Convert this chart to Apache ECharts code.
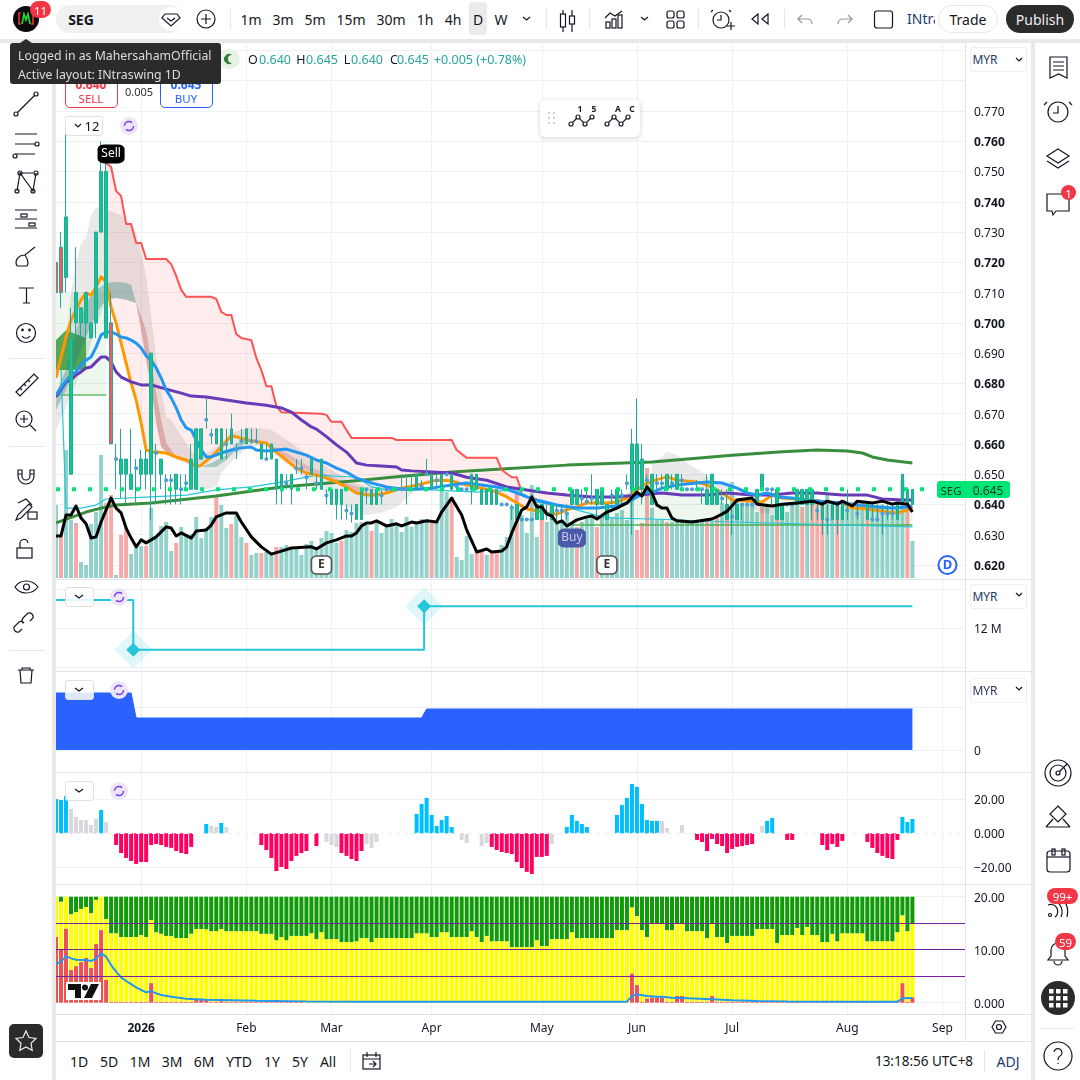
<!DOCTYPE html>
<html><head><meta charset="utf-8">
<script src="https://cdn.jsdelivr.net/npm/echarts@6/dist/echarts.min.js"></script>
<style>
html,body{margin:0;padding:0;background:#fff;width:1080px;height:1080px;overflow:hidden;font-family:"Noto Sans",sans-serif;color:#131722}
#chart{position:absolute;left:0;top:0;width:1080px;height:1080px}
.p{position:absolute}
.t{position:absolute;transform:translate(-50%,-50%);white-space:nowrap;font-size:13px}
svg{position:absolute;left:0;top:0}
</style></head><body>
<div id="chart"></div>
<div id="ui"></div>
<script>
const opens=[.72,.725,.715,.65,.71,.70,.70,.695,.70,.73,
.75,.70,.655,.655,.655,.645,.652,.65,.655,.65,
.657,.65,.648,.648,.65,.645,.647,.645,.645,.655,
.668,.663,.665,.655,.66,.665,.658,.661,.665,.661,
.661,.66,.655,.66,.655,.645,.647,.645,.652,.652,
.649,.65,.647,.645,.643,.64,.64,.645,.638,.637,
.635,.635,.645,.645,.645,.643,.645,.645,.645,.645,
.645,.645,.645,.646,.65,.65,.648,.645,.65,.65,
.646,.645,.645,.645,.65,.645,.64,.645,.645,.64,
.64,.639,.64,.635,.635,.635,.635,.64,.637,.635,
.638,.638,.637,.64,.645,.642,.641,.642,.645,.64,
.635,.643,.64,.643,.647,.645,.66,.655,.648,.64,
.647,.647,.65,.647,.645,.648,.645,.645,.645,.645,
.645,.64,.645,.642,.64,.636,.635,.64,.64,.64,
.64,.65,.645,.645,.645,.635,.64,.64,.64,.645,
.64,.645,.638,.64,.635,.635,.64,.635,.638,.64,
.637,.64,.64,.635,.635,.637,.637,.637,.635,.64,
.645,.64];
const closes=[.71,.71,.735,.695,.70,.705,.71,.70,.73,.75,
.695,.66,.655,.65,.65,.65,.652,.655,.65,.69,
.657,.655,.648,.648,.645,.645,.647,.655,.665,.665,
.668,.663,.66,.665,.66,.66,.658,.661,.66,.661,
.661,.655,.655,.655,.645,.65,.647,.65,.652,.652,
.649,.655,.647,.655,.643,.645,.645,.64,.638,.637,
.64,.645,.645,.64,.64,.643,.645,.645,.645,.645,
.645,.645,.65,.646,.65,.645,.648,.65,.65,.645,
.646,.645,.645,.65,.645,.64,.645,.64,.64,.64,
.64,.639,.635,.635,.635,.635,.64,.635,.637,.64,
.638,.638,.637,.645,.64,.642,.641,.642,.64,.645,
.64,.643,.645,.643,.647,.66,.645,.645,.648,.65,
.647,.647,.645,.647,.65,.648,.645,.645,.645,.645,
.64,.65,.64,.642,.635,.636,.64,.64,.64,.64,
.645,.645,.645,.645,.635,.64,.64,.64,.645,.64,
.645,.64,.638,.635,.635,.64,.635,.64,.638,.64,
.637,.64,.635,.635,.635,.637,.637,.637,.64,.65,
.64,.645];
const lows=[.705,.705,.71,.65,.695,.695,.695,.695,.695,.73,
.695,.66,.645,.642,.64,.645,.64,.645,.645,.635,
.64,.645,.64,.64,.64,.64,.645,.645,.645,.655,
.665,.66,.66,.655,.655,.66,.655,.66,.66,.66,
.66,.655,.655,.655,.64,.64,.645,.64,.65,.65,
.645,.65,.645,.645,.64,.64,.635,.635,.635,.634,
.635,.635,.64,.64,.64,.64,.645,.645,.645,.645,
.64,.645,.645,.645,.65,.645,.645,.645,.65,.645,
.645,.645,.645,.64,.645,.64,.64,.64,.64,.64,
.64,.635,.635,.635,.635,.635,.635,.635,.635,.635,
.635,.635,.635,.64,.64,.64,.64,.64,.635,.64,
.635,.64,.64,.64,.645,.63,.645,.64,.645,.64,
.645,.645,.645,.645,.645,.645,.645,.645,.645,.64,
.64,.64,.64,.64,.635,.63,.635,.635,.64,.64,
.64,.645,.645,.64,.635,.635,.64,.64,.64,.64,
.64,.635,.635,.63,.63,.635,.63,.635,.635,.64,
.635,.64,.635,.635,.635,.63,.635,.635,.635,.64,
.64,.64];
const highs=[.745,.73,.765,.705,.725,.705,.71,.70,.73,.76,
.755,.71,.66,.665,.655,.665,.655,.658,.658,.69,
.66,.655,.65,.65,.65,.65,.65,.66,.665,.665,
.675,.665,.665,.665,.665,.67,.66,.665,.665,.665,
.665,.66,.66,.66,.655,.65,.65,.65,.655,.655,
.65,.655,.65,.655,.645,.645,.645,.645,.64,.64,
.64,.645,.645,.645,.645,.645,.645,.645,.645,.65,
.65,.65,.65,.648,.655,.65,.65,.65,.65,.65,
.647,.645,.645,.65,.65,.645,.645,.645,.645,.64,
.64,.64,.64,.635,.635,.635,.64,.64,.64,.64,
.64,.64,.64,.645,.645,.645,.645,.65,.645,.645,
.64,.645,.645,.645,.65,.665,.675,.66,.65,.65,
.65,.65,.65,.65,.65,.65,.645,.645,.648,.645,
.65,.65,.645,.645,.645,.64,.64,.64,.64,.64,
.645,.65,.645,.645,.645,.64,.64,.64,.645,.645,
.645,.645,.64,.64,.64,.64,.64,.64,.645,.64,
.64,.64,.64,.64,.64,.64,.64,.64,.64,.65,
.645,.645];
const redFillBars=[0,1,11];
const volumes=[73,42,128,58,55,16,13,54,66,123,
75,83,3,43,51,24,31,32,32,70,
41,52,56,27,35,51,43,44,61,40,
50,61,83,73,50,54,63,41,35,23,
25,25,26,25,31,31,33,31,29,23,
34,37,30,40,47,45,35,37,48,46,
55,56,53,47,55,45,51,59,53,46,
61,51,55,59,57,55,56,88,86,81,
21,18,42,24,26,26,23,26,26,33,
41,71,86,63,45,93,41,73,56,73,
55,56,66,56,51,56,60,61,51,61,
68,60,65,68,58,105,48,55,110,70,
59,59,56,56,56,56,56,56,56,56,
60,56,60,75,61,96,76,73,73,73,
66,71,73,63,73,74,66,73,73,71,
73,80,79,73,83,73,73,71,73,73,
76,73,73,73,73,73,70,70,70,98,
71,37];
const volumeRedBars=[1,4,10,11,13,14,18,24,32,35,38,41,44,57,63,75,79,84,85,87,88,92,97,104,108,116,117,118,122,130,132,134,141,144,149,151,152,153,156,162,170];
const oscillator=[20.2,19.6,22,14.3,9.6,7.8,7.8,4.9,8.4,13.7,
6.7,0,-6.9,-11.6,-14.5,-16.3,-18,-16.9,-16.9,-6.9,
-6.3,-6.9,-8,-8.6,-10.4,-11.6,-12.2,-8,0,0,
5.5,4.3,3.7,6.1,3.7,0,0,0,0,0,
0,-6.9,-9.8,-14.5,-22.2,-19.8,-21,-16.3,-13.3,-11.6,
-10.4,0,-7.5,0,-5.1,-6.9,-8,-11.6,-13.3,-15.1,
-16.3,-10.4,-6.3,-8.6,-5.1,0,0,0,0,0,
0,0,11.4,17.3,20.8,10.8,4.3,7.8,10.2,3.7,
0,-3.9,-5.7,0,0,-7.5,-5.7,-8,-9.8,-11,
-11.6,-12.2,-16.9,-20.4,-22.7,-23.9,-13.9,-13.9,-13.3,-6.3,
0,0,3.7,10.8,7.3,5.5,3.7,0,0,0,
0,0,10.8,16.7,20.8,29,27.3,17.3,7.8,7.3,
7.3,7.3,3.1,0,0,4.9,0,0,-3.9,-5.1,
-10.4,-3.3,-6.3,-7.5,-11.6,-9.2,-8,-7.5,-6.9,-6.3,
0,4.3,7.3,9,0,0,-3.9,-3.9,0,0,
0,0,0,-6.9,-9.8,-6.3,-8,-4.5,0,0,
0,0,-5.1,-8.6,-11.6,-13.3,-14.5,-15.1,-3.9,9.6,
6.7,8.4];
const oscGrayBars=[3,4,5,6,7,8,10,31,32,34,54,55,56,62,63,64,81,82,85,86,99,121,122,125,141];
const yellowTop=[20,19.05,20,16.7,17.1,17.7,18.05,16.9,19.4,20,
15.8,13.1,13.1,12.4,12.4,12.4,12.4,12.77,12.4,15.6,
13.3,13,12.6,12.6,12.2,12.2,12.2,13,13.9,13.9,
13.85,13.5,13.5,13.9,13.5,13.5,13.5,13.5,13.5,13.5,
13.5,13,13,13,11.8,12.4,11.8,12.6,12.6,12.6,
12.6,13.1,12,13.3,12,12,12,11.45,11.45,11.45,
11.6,12.2,12.2,11.45,12.2,12.2,12.2,12.2,12.2,12.2,
12.2,12.2,13.1,13.1,13.1,12.4,12.4,13.3,13.3,12.4,
12.4,12.4,12.4,13.5,12.4,11.45,12.6,11.6,11.6,11.6,
11.6,10.5,10.5,10.5,10.5,10.5,11.8,10.7,10.7,12,
12,12,12,13.3,12.2,12.2,12.2,12.2,12.2,12.2,
12.2,12.2,13.7,13.7,13.7,18,16.35,13.7,12.4,15,
15,15,13.7,13.7,15,15,13.5,13.5,13.5,13.5,
12.2,15,12.4,12.4,11.26,12.6,12.6,12.6,12.6,12.6,
13.9,13.9,13.9,13.9,11.26,12.77,12.77,12.77,14.1,12.77,
14.3,12.77,12.77,11.45,11.45,13,11.6,13.1,13.1,13.1,
13.1,13.1,11.6,11.6,11.6,11.6,11.6,11.6,13.3,16.5,
13.5,15];
const redTop=[12.45,10.06,14,6.16,6.9,7.67,8.43,6.54,11.07,13.7,
4.28,.2,.2,.2,.2,.2,.2,.2,.2,3.7,
.2,.2,.2,.2,.2,.2,.2,.2,.5,.5,
.5,.2,.2,.3,.2,.2,.2,.2,.2,.2,
.2,.2,.2,.2,.2,.2,.2,.2,.2,.2,
0,0,0,0,0,0,0,0,0,0,
0,0,0,0,0,0,0,0,0,0,
0,0,0,0,0,0,0,0,0,0,
0,0,0,0,0,0,0,0,0,0,
0,0,0,0,0,0,0,0,0,0,
0,0,0,0,0,0,0,0,0,0,
0,0,0,0,0,5.53,3.33,.2,.8,1,
1,1,.2,.2,1.26,1.26,.2,.2,.2,.2,
.2,1.26,.2,.2,.2,.2,.2,.2,.2,.2,
.2,.2,.2,.2,.2,.2,.2,.2,.2,.2,
.2,.2,.2,.2,.2,.2,.2,.2,.2,.2,
.2,.2,.2,.2,.2,.2,.2,.2,.2,3.7,
.2,1];
const pane5Top=20;
const pane5Blue=[[0,7.3],[1,7.74],[2,8.8],[3,8.36],[4,8.1],[5,8.05],[6,8.05],[7,7.86],[8,8.36],[9,9.3],[10,8.68],[11,7.1],[12,5.85],[13,4.78],[14,4.1],[15,3.5],[16,2.9],[17,2.4],[18,1.95],[19,2.2],[20,1.76],[21,1.45],[23,1.13],[26,.75],[30,.57],[40,.38],[50,.25],[60,.19],[114,.19],[115,1.26],[116,1.57],[118,1.26],[120,1.13],[121,1.13],[123,.94],[126,.82],[131,.63],[135,.44],[140,.31],[146,.25],[168,.19],[169,.82],[171,.88]];
const redLine=[[10,.7528],[11,.7515],[12,.7436],[13,.7419],[14,.7327],[15,.7327],[16,.7264],[17,.7264],[18,.7211],[22,.7211],[23,.7194],[24,.7155],[25,.7109],[26,.7086],[31,.7086],[32,.7079],[33,.7036],[34,.7026],[35,.7026],[36,.6963],[37,.695],[39,.6943],[40,.6884],[41,.6844],[42,.6791],[43,.6791],[44,.6725],[45,.6705],[53,.67],[54,.6696],[55,.6673],[57,.6673],[58,.6646],[59,.662],[67,.662],[68,.6613],[79,.6613],[80,.658],[82,.6554],[88,.6554],[89,.6514],[91,.649],[92,.649],[93,.644]];
const redFillTail=[[102,.643],[112,.6405]];
const orangeLine=[[0,.6818],[1,.6887],[2,.6953],[3,.7009],[4,.7043],[5,.7076],[6,.7099],[7,.7092],[8,.7118],[9,.7152],[10,.7135],[11,.7052],[12,.6999],[13,.6933],[14,.6867],[15,.6801],[16,.6745],[17,.6669],[18,.658],[19,.6573],[20,.6573],[22,.657],[24,.6557],[26,.6547],[27,.6537],[28,.6524],[29,.653],[31,.6557],[33,.659],[35,.6627],[36,.6624],[38,.6613],[40,.6607],[42,.6603],[44,.6573],[46,.6547],[48,.652],[50,.6504],[52,.6497],[54,.6487],[56,.6474],[58,.6458],[60,.6438],[62,.6431],[64,.6431],[66,.6438],[69,.6454],[72,.6464],[76,.648],[79,.6478],[82,.6464],[85,.6454],[88,.6441],[90,.6425],[92,.6405],[94,.6385],[96,.6379],[98,.6372],[100,.6368],[102,.6382],[104,.6392],[106,.6405],[110,.6405],[112,.6408],[114,.6421],[116,.6448],[118,.6471],[121,.6487],[122,.6491],[124,.648],[128,.6474],[130,.6464],[133,.6438],[135,.6415],[141,.6408],[143,.6431],[145,.6421],[150,.6415],[154,.6408],[157,.6405],[159,.6388],[162,.6385],[166,.6375],[168,.6372],[170,.6382],[171,.6392]];
const blueLine=[[0,.6762],[1,.6785],[2,.6808],[3,.6828],[4,.6838],[5,.6861],[6,.6877],[7,.6887],[8,.692],[9,.696],[10,.697],[11,.697],[12,.6963],[13,.6953],[14,.695],[15,.6943],[16,.6933],[17,.6917],[18,.6891],[19,.6877],[20,.6851],[21,.6818],[22,.6778],[23,.6752],[24,.6719],[25,.6679],[26,.6653],[27,.6646],[29,.658],[30,.6557],[31,.6557],[33,.657],[35,.658],[37,.6587],[39,.659],[40,.658],[42,.6577],[44,.658],[46,.6583],[48,.6573],[50,.6563],[52,.6547],[54,.6537],[56,.652],[58,.6507],[60,.6487],[63,.6471],[66,.6458],[69,.6451],[72,.6451],[75,.6454],[79,.6464],[82,.6471],[85,.6464],[88,.6458],[90,.6451],[92,.6438],[94,.6425],[96,.6415],[100,.6398],[104,.6388],[108,.6388],[112,.6395],[114,.6405],[116,.6425],[118,.6441],[119,.6438],[121,.6454],[124,.6464],[128,.6471],[130,.6474],[133,.6471],[136,.6454],[138,.6438],[140,.6431],[142,.6438],[144,.6425],[147,.6421],[150,.6415],[154,.6408],[157,.6405],[160,.6398],[164,.6392],[167,.6388],[170,.6392],[171,.6395]];
const purpleLine=[[0,.6755],[2,.6805],[3,.6811],[4,.6828],[5,.6838],[6,.6851],[7,.6854],[8,.6871],[9,.6887],[10,.6887],[11,.6871],[12,.6838],[13,.6821],[15,.6805],[17,.6795],[19,.6795],[22,.6781],[25,.6768],[27,.6758],[30,.6755],[34,.6745],[38,.6735],[42,.6728],[45,.6719],[47,.6705],[49,.6679],[51,.6656],[52,.6649],[54,.6624],[56,.6597],[58,.6573],[60,.6537],[62,.653],[65,.6527],[68,.6524],[69,.6514],[71,.6511],[75,.6507],[79,.6504],[82,.649],[86,.648],[90,.6458],[94,.6448],[98,.6438],[102,.6431],[107,.6425],[112,.6425],[116,.6431],[121,.6438],[125,.6431],[130,.6431],[134,.6438],[139,.6431],[143,.6431],[147,.6438],[152,.6438],[157,.6431],[162,.6431],[165,.6418],[169,.6415],[171,.6415]];
const greenLine=[[0,.6339],[6,.6375],[9,.6388],[12,.6398],[19,.6405],[32,.6428],[45,.6458],[61,.648],[67,.649],[79,.6507],[89,.6517],[102,.653],[119,.654],[135,.6563],[145,.6574],[152,.658],[158,.6577],[161,.657],[163,.6557],[166,.6547],[171,.6537]];
const cyanLine=[[1,.6845],[2,.6388],[5,.6388],[8,.6398],[9,.6408],[10,.6418],[19,.6425],[26,.6431],[32,.6448],[39,.6458],[45,.6474],[52,.6497],[60,.649],[63,.6458],[66,.6448],[75,.6448],[84,.6441],[92,.6448],[96,.6408],[104,.6382],[109,.6359],[112,.6355],[119,.6352],[135,.6342],[171,.6326]];
const blackLine=[[0,.6296],[1,.6296],[2,.6365],[3,.6365],[4,.6395],[5,.6355],[6,.6336],[7,.6289],[8,.6293],[9,.6342],[11,.6421],[12,.6388],[13,.6372],[14,.6322],[15,.6289],[16,.626],[17,.6283],[18,.6273],[20,.6293],[22,.6326],[23,.6322],[24,.6296],[25,.6306],[27,.6289],[28,.6312],[30,.6316],[31,.6332],[32,.6359],[34,.6372],[36,.6372],[37,.6342],[39,.6293],[41,.626],[43,.6236],[45,.6246],[47,.6256],[51,.626],[52,.6253],[54,.6273],[56,.6283],[58,.6296],[59,.6296],[60,.6306],[61,.6329],[62,.6339],[63,.6339],[64,.6346],[66,.6329],[68,.6336],[69,.6329],[71,.6342],[72,.6339],[74,.6346],[76,.6342],[77,.6375],[79,.6421],[81,.6365],[82,.6316],[84,.6243],[86,.6253],[87,.6243],[89,.6246],[90,.626],[91,.6306],[93,.6382],[94,.6392],[95,.6425],[96,.6392],[97,.6392],[98,.6368],[99,.6362],[100,.6339],[101,.6346],[102,.6329],[104,.6349],[106,.6359],[107,.6362],[108,.6352],[110,.6375],[112,.6388],[114,.6405],[116,.6441],[117,.6428],[118,.6458],[119,.6438],[120,.6398],[121,.6388],[122,.6388],[123,.6355],[124,.6346],[127,.6342],[131,.6352],[133,.6368],[134,.6378],[136,.6415],[139,.6421],[140,.6401],[143,.6395],[145,.6401],[148,.6405],[151,.6411],[153,.6401],[154,.6411],[156,.6401],[157,.6411],[159,.6395],[160,.6411],[163,.6405],[165,.6411],[167,.6401],[168,.6405],[170,.6401],[171,.6375]];
const grayCloudA=[[[0,.6735],[1,.6821],[2,.6933],[3,.7099],[4,.7198],[5,.7264],[6,.7281],[7,.7356],[8,.7383],[9,.7376],[10,.7373],[12,.7363],[14,.7346],[16,.7297],[17,.7231],[18,.7152],[19,.702],[20,.6887],[21,.6778],[22,.6689],[23,.6679],[24,.6653],[26,.6603],[28,.6554]],
[[0,.6646],[2,.6722],[4,.6801],[6,.6877],[8,.6988],[10,.7076],[12,.7082],[14,.7076],[16,.7066],[17,.6976],[18,.6877],[19,.6788],[20,.6669],[21,.659],[23,.6557],[25,.6547],[28,.6554]]];
const grayCloudB=[[[27,.6547],[29,.6557],[32,.659],[35,.6636],[39,.6656],[43,.6646],[47,.6603],[51,.6554],[55,.6514],[59,.6474],[62,.6458],[66,.6458],[72,.6448]],
[[27,.6471],[29,.6448],[32,.6458],[33,.6504],[36,.6557],[39,.6597],[42,.6587],[45,.6547],[48,.6507],[51,.6471],[55,.6425],[59,.6382],[62,.6365],[65,.6372],[68,.6392],[72,.6448]]];
const grayCloudC=[[[119,.654],[121,.6557],[122,.6574],[124,.6563],[126,.6537],[129,.6507],[131,.648],[134,.6464],[136,.642]],
[[119,.648],[121,.6497],[125,.6474],[128,.6458],[131,.6448],[134,.6425],[136,.642]]];
const grayCloudD=[[[138,.6398],[141,.6408],[144,.6388]],[[138,.6398],[141,.6372],[144,.6365]]];
const tealRibbonA=[[[0,.6768],[2,.6844],[4,.6976],[6,.7066],[8,.7109],[10,.7132],[12,.7135],[14,.7132],[15,.7125],[16,.7066]],
[[0,.6712],[2,.6778],[4,.6867],[6,.6953],[8,.7033],[10,.7076],[12,.7082],[14,.7076],[16,.7066]]];
const pinkRibbonA=[[[16,.7066],[18,.6976],[19,.6867],[20,.6768],[21,.6679],[22,.6603],[24,.6557],[27,.6537]],
[[16,.7066],[17,.6976],[18,.6877],[19,.6788],[20,.6669],[21,.659],[23,.6557],[27,.653]]];
const tealRibbonB=[[[29,.6524],[31,.6537],[34,.6563],[36,.6603],[39,.6618]],
[[29,.6524],[32,.6524],[34,.6547],[36,.658],[39,.6618]]];
const pinkRibbonB=[[[42,.6603],[46,.657],[50,.653],[54,.65],[58,.647],[62,.645]],
[[42,.6603],[46,.6554],[50,.6514],[54,.6484],[58,.6454],[62,.6431]]];
const paleGreenA=[[[0,.7099],[10,.7099]],[[0,.6762],[10,.6762]]];
const buyBoxA=[[[0,.6943],[2,.6976],[6,.695]],[[0,.6844],[6,.6844]]];
const paleGreenB=[[[103,.6375],[115,.6445],[119,.648],[135,.642],[171,.641]],[[103,.6332],[171,.6332]]];
const buyLevelA=[[0,.6762],[10,.6762]];
const buyLevelB=[[103,.6332],[171,.6332]];
const lastPrice=0.645;
const lastPriceSpan=[0,174];
const pane2Step=[[0,12.72],[15.43,12.72],[15.43,11.44],[73.5,11.44],[73.5,12.56],[171,12.56]];
const pane2Events=[[15.43,11.44],[73.5,12.56]];
const pane3Area=[[0,1.3256],[15,1.3256],[16,.744],[73,.744],[74,.953],[171,.953]];
const pane5Levels=[15,10,5];
const monthBars=[17,38,55,75,97,116,135,158,177];
const monthNames=['2026','Feb','Mar','Apr','May','Jun','Jul','Aug','Sep'];
const categories=Array.from({length:182},(_,i)=>String(i));
const dataBars=opens.map((_,i)=>i);

const FONT='"Noto Sans",sans-serif', GRID='#eff0f4', TXT='#131722';
const L=53.5,W=911.5;
function plainX(gridIndex,extra){return Object.assign({type:'category',gridIndex,data:categories,boundaryGap:true,axisLine:{show:false},axisTick:{show:false},axisLabel:{show:false},splitLine:{show:false},axisPointer:{show:false}},extra||{})}
function valY(gridIndex,min,max,interval,fmt,split){return {type:'value',gridIndex,position:'right',min,max,interval,scale:false,axisLine:{show:false},axisTick:{show:false},
 axisLabel:{show:!!fmt,formatter:fmt,color:TXT,fontSize:12,fontFamily:FONT,margin:9,padding:[3,0,0,0],showMinLabel:true,showMaxLabel:true,rich:{b:{fontWeight:'bold',fontSize:12,fontFamily:FONT,color:TXT}}},
 splitLine:Object.assign({show:split!==false,lineStyle:{color:GRID,width:1}},split||{})}}
const grids=[
 {left:L,width:W,top:44,height:970},
 {left:L,width:W,top:44,height:534},
 {left:L,width:W,top:20.2,height:575.07},
 {left:L,width:W,top:589,height:78},
 {left:L,width:W,top:664,height:86},
 {left:L,width:W,top:765.3,height:136},
 {left:L,width:W,top:896.7,height:106}
];
const xAxes=[
 plainX(0,{axisLabel:{show:true,interval:(i)=>monthBars.includes(i),formatter:(v,i)=>{const k=monthBars.indexOf(+v);return k<0?'':(k===0?'{b|'+monthNames[k]+'}':monthNames[k])},color:TXT,fontSize:12,fontFamily:FONT,margin:9,hideOverlap:false,rich:{b:{fontWeight:'bold',fontSize:12,fontFamily:FONT,color:TXT}}},
  splitLine:{show:true,alignWithLabel:true,interval:(i)=>monthBars.includes(i),lineStyle:{color:GRID,width:1}}}),
 plainX(1),plainX(2),
 {type:'value',gridIndex:3,min:-0.5,max:181.5,axisLine:{show:false},axisTick:{show:false},axisLabel:{show:false},splitLine:{show:false}},
 plainX(4),plainX(5),plainX(6)
];
const yAxes=[
 valY(0,0,1,1,null,false),
 valY(1,0,534,534,null,false),
 (()=>{const a=valY(2,0.61,0.80,0.01,(v)=>{const m=Math.round(v*1000);if(m>770||m<620)return '';const s=(m/1000).toFixed(3);return (m/10)%2===0?'{b|'+s+'}':s;});a.splitLine.showMinLine=false;a.splitLine.showMaxLine=false;return a})(),
 valY(3,11,13,1,(v)=>v===12?'12 M':''),
 (()=>{const a=valY(4,0,2,1,(v)=>v===0?'0':'');a.splitLine.showMaxLine=false;return a})(),
 (()=>{const a=valY(5,-40,40,20,(v)=>Math.abs(v)===40?'':(v===0?'0.000':(v<0?'\u2212':'')+Math.abs(v).toFixed(2)));a.splitLine.showMinLine=false;a.splitLine.showMaxLine=false;return a})(),
 valY(6,0,20,10,(v)=>v===0?'0.000':v.toFixed(2))
];
function band(pair,color,z){return {type:'custom',xAxisIndex:2,yAxisIndex:2,z,silent:true,clip:true,data:[[pair[0][0][0],pair[0][0][1]]],
 renderItem:(p,api)=>({type:'polygon',shape:{points:pair[0].concat(pair[1].slice().reverse()).map(d=>api.coord(d))},style:{fill:color}})}}
function pline(data,color,width,z){return {type:'line',xAxisIndex:2,yAxisIndex:2,data,z,symbol:'none',silent:true,lineStyle:{color,width,join:'round'}}}
const pinkUpper=redLine.concat(redFillTail);
const pinkLower=orangeLine.filter(d=>d[0]>=10&&d[0]<=112);
const series=[
 {type:'bar',xAxisIndex:1,yAxisIndex:1,z:1,silent:true,barWidth:4,data:volumes.map((v,i)=>({value:v,itemStyle:{color:volumeRedBars.includes(i)?'#f7a9a8':'#92d2cb'}}))},
 band(paleGreenA,'rgba(76,175,80,0.10)',2),
 band(paleGreenB,'rgba(76,175,80,0.10)',2),
 band([pinkUpper,pinkLower],'rgba(255,82,82,0.11)',2),
 band(grayCloudA,'rgba(110,110,110,0.15)',2),
 band(grayCloudB,'rgba(110,110,110,0.15)',2),
 band(grayCloudC,'rgba(110,110,110,0.15)',2),
 band(grayCloudD,'rgba(110,110,110,0.15)',2),
 band(buyBoxA,'rgba(56,155,60,0.85)',2),
 band(tealRibbonA,'rgba(30,125,115,0.32)',3),
 band(pinkRibbonA,'rgba(190,50,50,0.28)',3),
 band(tealRibbonB,'rgba(30,125,115,0.3)',3),
 band(pinkRibbonB,'rgba(190,50,50,0.2)',3),
 pline(buyLevelA,'#66bb6a',1.5,4),
 pline(buyLevelB,'#4caf50',1.5,4),
 pline(cyanLine,'#26c6da',1.2,4),
 pline(greenLine,'#388e3c',3,4),
 pline(redLine,'#ff5252',2,4),
 pline(orangeLine,'#ff9800',3,4),
 pline(purpleLine,'#673ab7',3,4),
 pline(blueLine,'#2196f3',3,4),
 {type:'candlestick',xAxisIndex:2,yAxisIndex:2,z:5,silent:true,barWidth:3,
  data:opens.map((o,i)=>{const doji=o===closes[i];const st={color:'#0dc98c',color0:'#0dc98c',borderColor:'#26a69a',borderColor0:'#ef5350',borderWidth:1};
   if(redFillBars.includes(i)){st.color=st.color0='#f25c5a';}
   if(doji){st.borderColor=st.borderColor0='#26a69a';}
   return {value:[o,closes[i],lows[i],highs[i]],itemStyle:st}})},
 {type:'scatter',xAxisIndex:2,yAxisIndex:2,z:5,silent:true,symbolSize:4,itemStyle:{color:'#4a9fd6',opacity:1},data:dataBars.filter(i=>opens[i]===closes[i]).map(i=>[i,opens[i]])},
 {type:'line',xAxisIndex:2,yAxisIndex:2,z:6,symbol:'none',silent:true,data:[[lastPriceSpan[0],lastPrice],[lastPriceSpan[1],lastPrice]],lineStyle:{color:'#00e676',width:4,type:[4,12]}},
 pline(blackLine,'#000',3,7),
 {type:'scatter',xAxisIndex:2,yAxisIndex:2,z:8,silent:true,symbol:'roundRect',symbolSize:[27,19],itemStyle:{color:'#000',opacity:1},data:[[11,.7558]],label:{show:true,position:'inside',formatter:'Sell',color:'#fff',fontSize:12,fontFamily:FONT}},
 {type:'scatter',xAxisIndex:2,yAxisIndex:2,z:8,silent:true,symbol:'roundRect',symbolSize:[28,19],itemStyle:{color:'#4a5aa8',opacity:1},data:[[103,.6289]],label:{show:true,position:'inside',formatter:'Buy',color:'#c5cae9',fontSize:12,fontFamily:FONT}},
 {type:'scatter',xAxisIndex:2,yAxisIndex:2,z:8,silent:true,symbol:'none',data:[[2,.6908]],label:{show:true,position:'inside',formatter:'Buy',color:'rgba(255,255,255,0.6)',fontSize:12,fontFamily:FONT}},
 {type:'scatter',xAxisIndex:2,yAxisIndex:2,z:8,silent:true,symbol:'roundRect',symbolSize:[20,18],itemStyle:{color:'#fff',borderColor:'#555',borderWidth:1.5,opacity:1},data:[[53,.62],[110,.62]],label:{show:true,position:'inside',formatter:'E',color:'#333',fontSize:12,fontWeight:'bold',fontFamily:FONT}},
 {type:'scatter',xAxisIndex:2,yAxisIndex:2,z:8,silent:true,symbol:'circle',symbolSize:18,itemStyle:{color:'#fff',borderColor:'#2962ff',borderWidth:2,opacity:1},data:[[178,.62]],label:{show:true,position:'inside',formatter:'D',color:'#2962ff',fontSize:13,fontWeight:'bold',fontFamily:FONT}},
 {type:'line',xAxisIndex:3,yAxisIndex:3,z:3,symbol:'none',silent:true,data:pane2Step,lineStyle:{color:'#26c6da',width:2}},
 {type:'scatter',xAxisIndex:3,yAxisIndex:3,z:2,silent:true,symbol:'diamond',symbolSize:38,itemStyle:{color:'rgba(38,198,218,0.15)',opacity:1},data:pane2Events},
 {type:'scatter',xAxisIndex:3,yAxisIndex:3,z:4,silent:true,symbol:'diamond',symbolSize:14,itemStyle:{color:'#26c6da',opacity:1},data:pane2Events},
 {type:'line',xAxisIndex:4,yAxisIndex:4,z:3,symbol:'none',silent:true,data:pane3Area,lineStyle:{color:'#2962ff',width:1},areaStyle:{color:'#2962ff',opacity:1}},
 {type:'bar',xAxisIndex:5,yAxisIndex:5,z:3,silent:true,barWidth:4,data:oscillator.map((v,i)=>({value:v,itemStyle:{color:oscGrayBars.includes(i)?'#d8d8dc':(v>0?'#00bfff':'#ff0061')}}))},
 {type:'line',xAxisIndex:5,yAxisIndex:5,z:4,symbol:'none',silent:true,data:[[0,0],[181,0]],lineStyle:{color:'#fff',width:1.2,type:[4,4]}},
 {type:'bar',xAxisIndex:6,yAxisIndex:6,z:3,silent:true,barWidth:4,stack:'pane5',data:redTop,itemStyle:{color:'#ef5350'}},
 {type:'bar',xAxisIndex:6,yAxisIndex:6,z:3,silent:true,barWidth:4,stack:'pane5',data:yellowTop.map((t,i)=>t-redTop[i]),itemStyle:{color:'#ffff00'}},
 {type:'bar',xAxisIndex:6,yAxisIndex:6,z:3,silent:true,barWidth:4,stack:'pane5',data:yellowTop.map(t=>pane5Top-t),itemStyle:{color:'#119b08'}},
 {type:'line',xAxisIndex:6,yAxisIndex:6,z:4,symbol:'none',silent:true,data:pane5Blue,lineStyle:{color:'#2196f3',width:2},
  markLine:{silent:true,symbol:'none',animation:false,label:{show:false},lineStyle:{color:'#7b1fa2',width:1.2,type:'solid'},data:pane5Levels.map(v=>({yAxis:v}))}}
];
const chart=echarts.init(document.getElementById('chart'),null,{renderer:'canvas',width:1080,height:1080});
chart.setOption({animation:false,backgroundColor:'#fff',textStyle:{fontFamily:FONT},grid:grids,xAxis:xAxes,yAxis:yAxes,series});

// ---- application chrome around the chart ----
const ui=document.getElementById('ui');
function box(x,y,w,h,css){const d=document.createElement('div');d.className='p';d.style.cssText=`left:${x}px;top:${y}px;width:${w}px;height:${h}px;`+(css||'');ui.appendChild(d);return d}
function txt(x,y,s,css){const d=document.createElement('div');d.className='t';d.style.cssText=`left:${x}px;top:${y}px;`+(css||'');d.textContent=s;ui.appendChild(d);return d}
function ltxt(x,y,s,css){const d=txt(x,y,s,css);d.style.transform='translate(0,-50%)';return d}
const BAND='#e9e9ea',SEP='#e0e3eb';
box(0,0,1080,39,'background:#fff');box(0,39,1080,4,`background:${BAND}`);
box(0,43,52,1037,'background:#fff');box(52,43,4,1037,`background:${BAND}`);
box(1035,43,45,1037,'background:#fff');box(1031,43,4,1037,`background:${BAND}`);
box(56,1042,975,38,'background:#fff');
box(965,43,1,999,`background:${SEP}`);
[579,671,772,884,1014,1041].forEach(y=>box(56,y,975,1,`background:${SEP}`));
// top bar
box(56,5,127,28,'background:#f0f0f0;border-radius:14px');
txt(81,19,'SEG','font-weight:700;font-size:14px');
box(159,7,24,24,'background:#fff;border-radius:12px');
[['1m',251],['3m',283],['5m',315],['15m',351],['30m',391],['1h',425],['4h',453],['W',501]].forEach(a=>txt(a[1],19,a[0],'font-size:14px'));
box(469,2,18,33,'background:#ebebeb;border-radius:4px');txt(478,19,'D','font-size:14px');
const clip=box(907,8,28,22,'overflow:hidden;color:#1e3a6d;font-size:14px;line-height:22px;white-space:nowrap');clip.textContent='INtraswing 1D';
box(938,5,60,28,'background:#fff;border:1px solid #e8e8ea;border-radius:15px;box-sizing:border-box');txt(968,19,'Trade','font-size:14px');
box(1006,5,68,28,'background:#2b2b2b;border-radius:14px');txt(1040,19,'Publish','font-size:14px;color:#eee');
// legend
box(218,49,22,20,'background:#e6f2e6;border-radius:10px');
const leg=[['O',253,TXT],['0.640',275,'#26a69a'],['H',301,TXT],['0.645',322,'#26a69a'],['L',347,TXT],['0.640',367,'#26a69a'],['C',394,TXT],['0.645',413,'#26a69a'],['+0.005 (+0.78%)',480,'#26a69a']];
leg.forEach(a=>txt(a[1],59,a[0],`font-size:12.5px;color:${a[2]}`));
// sell / buy boxes
box(65,72,53,36,'background:#fff;border:1px solid #f23645;border-radius:0 0 5px 5px;box-sizing:border-box');
txt(91,84,'0.640','font-size:12px;font-weight:700;color:#f23645');txt(91,98,'SELL','font-size:11.5px;color:#f23645');
txt(139,91,'0.005','font-size:11px;color:#333');
box(160,72,53,36,'background:#fff;border:1px solid #2962ff;border-radius:0 0 5px 5px;box-sizing:border-box');
txt(186,84,'0.645','font-size:12px;font-weight:700;color:#2962ff');txt(186,98,'BUY','font-size:11.5px;color:#2962ff');
// tooltip
box(10,43,211,41,'background:#2b2b2b;border-radius:3px');
ltxt(18,55,'Logged in as MahersahamOfficial','font-size:12.3px;color:#ddd');
ltxt(18,74,'Active layout: INtraswing 1D','font-size:12.3px;color:#ddd');
// pane buttons
function dd(x,y,w,label){box(x,y,w,20,'background:rgba(255,255,255,.85);border:1px solid #e0e0e0;border-radius:3px;box-sizing:border-box');if(label)txt(x+27,y+10,label,'font-size:13px')}
dd(65,116,38,'12');dd(65,587,29);dd(65,680,29);dd(65,781,29);
[[129,126],[119,597],[119,690],[119,791]].forEach(a=>box(a[0]-9,a[1]-9,18,18,'background:#ece6f8;border-radius:9px'));
// currency buttons
[[970,47],[970,584],[970,678]].forEach(a=>{box(a[0],a[1],57,25,'background:#fff;border:1px solid #eceef2;border-radius:3px;box-sizing:border-box');txt(a[0]+15,a[1]+12,'MYR','font-size:12px;color:#2a3a5a')});
// last price badge
box(937,481,28,17,'background:#00e676;border-radius:3px 0 0 3px');txt(951,489.5,'SEG','font-size:11.5px;color:#0b3d22');
box(965,481,45,17,'background:#00e676;border-radius:0 3px 3px 0');txt(988,489.5,'0.645','font-size:12px;color:#0b3d22');
// floating drawing bar
box(540,100,100,37,'background:#fff;border-radius:5px;box-shadow:0 1px 5px rgba(0,0,0,.18)');
[[580,'1'],[594,'5'],[618,'A'],[632,'C']].forEach(a=>txt(a[0],108,a[1],'font-size:8.5px;font-weight:700;color:#222'));
// bottom bar
[['1D',79],['5D',109],['1M',140],['3M',172],['6M',204],['YTD',239],['1Y',272],['5Y',300],['All',328]].forEach(a=>txt(a[1],1061,a[0],'font-size:14px'));
txt(924,1061,'13:18:56 UTC+8','font-size:13.5px');txt(1008,1061,'ADJ','font-size:14px;color:#1e3a6d');
// badges
function badge(x,y,w,h,s){box(x,y,w,h,`background:#f23645;border-radius:${h/2}px`);txt(x+w/2,y+h/2,s,'font-size:11.5px;color:#fff')}
const svgNS='http://www.w3.org/2000/svg';
const ic=`
<g fill="none" stroke="#131722" stroke-width="1.2">
<path d="M165 14h12l3 4-9 8-9-8z"/><path d="M167 18l4 3 4-3"/>
<circle cx="206" cy="19" r="9"/><path d="M206 14v10M201 19h10"/>
<path d="M230.500 9v20M546.500 9v20M589.500 9v20M698.500 9v20M784.500 9v20" stroke="#e6e6e8"/>
<path d="M523 17l3.500 3 3.500-3M641 17l3.500 3 3.500-3"/>
<path d="M563 10v22M572 10v22"/><rect x="560.500" y="14" width="5" height="13" fill="#fff"/><rect x="569.500" y="16" width="5" height="8" fill="#fff"/>
<path d="M605 18l5-5 5 3 7-5" /><rect x="606" y="22" width="4" height="6"/><rect x="612" y="19" width="4" height="9"/><rect x="618" y="15" width="4" height="13"/>
<rect x="667" y="11" width="7" height="7" rx="2"/><rect x="677" y="11" width="7" height="7" rx="2"/><rect x="667" y="21" width="7" height="7" rx="2"/><rect x="677" y="21" width="7" height="7" rx="2"/>
<circle cx="721" cy="20" r="8"/><path d="M721 15v5h-4M713 10l-2 2M729 10l2 2M727 26h8M731 22v8"/>
<path d="M758 14l-6 5 6 5zM768 14l-6 5 6 5z"/>
<path d="M802 15l-4 4 4 4M799 19h8c3 0 5 2 5 5" stroke="#999"/><path d="M848 15l4 4-4 4M851 19h-8c-3 0-5 2-5 5" stroke="#999"/>
<rect x="874.500" y="11" width="18" height="17" rx="2.500"/>
<path d="M232 55a5 5 0 1 0 0 8a4 4 0 0 1 0-8z" fill="#2e7d32" stroke="none"/>
<circle cx="16" cy="114" r="2"/><circle cx="36" cy="94" r="2"/><path d="M17.500 112.500l17-17"/>
<path d="M15 134h22M15 144h20M15 154h20"/><circle cx="37" cy="144" r="2"/><circle cx="15" cy="156" r="2"/>
<path d="M17 191l3-18 13 18 3-18M20 173l13 0"/><circle cx="17" cy="191" r="2"/><circle cx="20" cy="173" r="2"/><circle cx="33" cy="191" r="2"/><circle cx="36" cy="173" r="2"/>
<path d="M15 210h22M15 219h22M15 228h22"/><rect x="21" y="214" width="6" height="3"/><rect x="29" y="223" width="6" height="3"/>
<path d="M17 266c-3-6 2-11 8-11l10-8M17 266h10c2-3 0-8-2-11"/>
<path d="M19 288h15M26.500 288v15M23 303h7"/>
<circle cx="26" cy="333" r="9.500"/><path d="M22 336c2 3 6 3 8 0"/><circle cx="22.500" cy="330" r=".8"/><circle cx="29.500" cy="330" r=".8"/>
<path d="M9 358.500h35M9 446.500h35M9 650.500h35" stroke="#e6e6e8"/>
<path d="M16 392l18-18 4 4-18 18zM20 388l2 2M24 384l2 2M28 380l2 2"/>
<circle cx="24" cy="419" r="8"/><path d="M30 425l6 6M24 415v8M20 419h8"/>
<path d="M18 470v6a8 8 0 0 0 16 0v-6h-4v6a4 4 0 0 1-8 0v-6z"/><path d="M18 474h4M30 474h4"/>
<path d="M18 515l-2 5 5-2 11-11-3-3zM18 503l8-4 6 6"/><rect x="28" y="512" width="9" height="7"/>
<rect x="17" y="548" width="15" height="10"/><path d="M20 548v-4a4 4 0 0 1 8-1"/>
<path d="M15 587c5-8 17-8 23 0c-6 8-18 8-23 0z"/><circle cx="26.500" cy="587" r="3"/>
<path d="M22 629l-3 3a4 4 0 0 1-5-5l5-5a4 4 0 0 1 5 1M30 621l3-3a4 4 0 0 0-5-5l-5 5a4 4 0 0 0 0 5"/>
<path d="M18 670h16M22 670v-2h8v2M20 670l1 13h10l1-13"/>
<path d="M1050 57h17v21l-8.500-4-8.500 4zM1053 62h11M1053 66h11M1053 70h11"/>
<circle cx="1058" cy="112" r="10"/><path d="M1058 106v7h-5M1047 102l-3 3M1069 102l3 3"/>
<path d="M1058 149l11 7-11 7-11-7zM1047 161l11 7 11-7"/>
<path d="M1047 194h22v17h-13l-3 4-1-4h-5z"/>
<circle cx="1058" cy="773" r="13"/><circle cx="1058" cy="773" r="8"/><circle cx="1058" cy="773" r="2"/><path d="M1059 772l8-8"/>
<path d="M1058 806l8 8-8 8-8-8zM1046 827l7-8M1070 827l-7-8M1046 827h24"/>
<rect x="1047" y="851" width="23" height="21" rx="3"/><path d="M1047 857h23"/><rect x="1052" y="849" width="3" height="6" /><rect x="1062" y="849" width="3" height="6"/>
<path d="M1048 905a7 7 0 0 1 7 12M1048 899a13 13 0 0 1 13 18M1048 893a19 19 0 0 1 19 24"/><circle cx="1050" cy="915" r="1.500"/>
<path d="M1048 960h20l-3-4v-6a7 7 0 0 0-14 0v6zM1054 961a4 4 0 0 0 8 0"/>
<circle cx="1058" cy="1056" r="14"/><path d="M1054 1052a4 4 0 1 1 6 4c-2 1-2 2-2 4M1058 1063v1"/>
<path d="M1041 1028.500h33" stroke="#e6e6e8"/>
<path d="M350.500 1050v22M984.500 1050v22" stroke="#e6e6e8"/>
<rect x="363" y="1055" width="17" height="14"/><path d="M363 1059h17M367 1052v5M376 1052v5M369 1064h7M373 1061l3 3-3 3"/>
<path d="M992 1027l3.500-6h7l3.500 6-3.500 6h-7z"/><circle cx="999" cy="1027" r="2.500"/>
<path d="M1016 58l3 3 3-3"/>
</g>
<g fill="none" stroke="#131722" stroke-width="1.2">
<path d="M1016 593l3 3 3-3M1016 687l3 3 3-3M75 124l3 3 3-3M75 595l4 3 4-3M75 688l4 3 4-3M75 789l4 3 4-3"/>
<path d="M571 124l7-7 7 7 7-7M607 124l7-7 7 7 7-7"/>
<circle cx="571" cy="124" r="2" fill="#fff"/><circle cx="578" cy="117" r="2" fill="#fff"/><circle cx="585" cy="124" r="2" fill="#fff"/><circle cx="592" cy="117" r="2" fill="#fff"/>
<circle cx="607" cy="124" r="2" fill="#fff"/><circle cx="614" cy="117" r="2" fill="#fff"/><circle cx="621" cy="124" r="2" fill="#fff"/><circle cx="628" cy="117" r="2" fill="#fff"/>
</g>
<g fill="none" stroke="#7a3cf0" stroke-width="1.5">
<circle cx="129" cy="126" r="4.500" stroke-dasharray="10 4"/><circle cx="119" cy="597" r="4.500" stroke-dasharray="10 4"/><circle cx="119" cy="690" r="4.500" stroke-dasharray="10 4"/><circle cx="119" cy="791" r="4.500" stroke-dasharray="10 4"/>
</g>
<g fill="#cfcfd4"><rect x="548" y="112" width="2" height="2"/><rect x="553" y="112" width="2" height="2"/><rect x="548" y="117" width="2" height="2"/><rect x="553" y="117" width="2" height="2"/><rect x="548" y="122" width="2" height="2"/><rect x="553" y="122" width="2" height="2"/></g>
<circle cx="26" cy="19" r="13" fill="#0a0a0a"/>
<path d="M21 13h-2v11h2M31 13h2v11h-2" fill="none" stroke="#e33" stroke-width="1.6"/><path d="M22 24l2-10 2 6 2-6 2 10" fill="none" stroke="#1fe03a" stroke-width="1.6"/>
<path d="M26 39l-6 4h12z" fill="#2b2b2b"/>
<rect x="9" y="1024" width="34" height="34" rx="5" fill="#2b2b2b"/><path d="M26 1031l3 6.500 7 1-5 4.800 1.200 7-6.200-3.300-6.200 3.300 1.200-7-5-4.800 7-1z" fill="none" stroke="#eee" stroke-width="1.2"/>
<circle cx="1058" cy="998" r="17" fill="#2b2b2b"/>
<g fill="#fff"><rect x="1049" y="989" width="4.500" height="4.500"/><rect x="1056" y="989" width="4.500" height="4.500"/><rect x="1063" y="989" width="4.500" height="4.500"/><rect x="1049" y="996" width="4.500" height="4.500"/><rect x="1056" y="996" width="4.500" height="4.500"/><rect x="1063" y="996" width="4.500" height="4.500"/><rect x="1049" y="1003" width="4.500" height="4.500"/><rect x="1056" y="1003" width="4.500" height="4.500"/><rect x="1063" y="1003" width="4.500" height="4.500"/></g>
<rect x="66" y="982" width="35" height="18" fill="#fff"/>
<path d="M68 984h13v14h-6v-8h-7z" fill="#111"/><circle cx="85" cy="987.500" r="3" fill="#111"/><path d="M91 984h8l-7 14h-8z" fill="#111"/>
`;
const s=document.createElementNS(svgNS,'svg');s.setAttribute('width','1080');s.setAttribute('height','1080');s.innerHTML=ic;ui.appendChild(s);
badge(30,1,21,17,'11');badge(1061,185,15,15,'1');badge(1047,888,31,16,'99+');badge(1055,933,21,17,'59');
</script>
</body></html>
